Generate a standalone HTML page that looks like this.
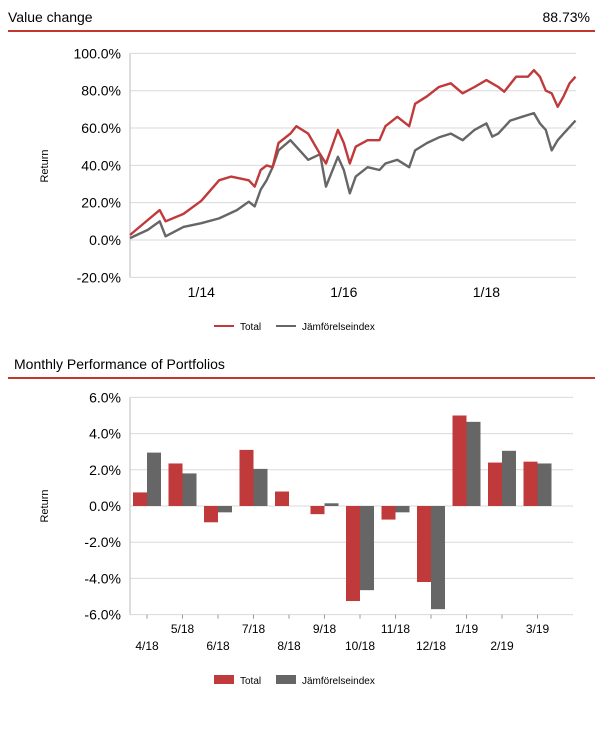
<!DOCTYPE html>
<html><head><meta charset="utf-8"><style>
body{margin:0;background:#fff;font-family:"Liberation Sans",Arial,sans-serif}
svg text{font-family:"Liberation Sans",Arial,sans-serif}
</style></head><body>
<svg id="root" width="609" height="725" xmlns="http://www.w3.org/2000/svg">
<g>
<text x="8" y="22" font-size="14" fill="#000">Value change</text>
<text x="590" y="22" font-size="14" fill="#000" text-anchor="end">88.73%</text>
<rect x="8" y="30" width="587" height="2" fill="#c0392b"/>
</g>
<g id="line"></g>
<g>
<text x="14" y="369" font-size="14" fill="#000">Monthly Performance of Portfolios</text>
<rect x="8" y="377" width="587" height="2" fill="#c0392b"/>
</g>
<g id="bar"></g>
</svg>
<script>
// ---- Line chart data ----
const lineMonths=[0,3,5,6,9,12,15,17,20,21,22,23,24,25,27,28,30,32,33,35,36,37,38,40,42,43,45,47,48,50,52,54,56,58,60,62,63,65,67,68,69,70,71,72,73,74,75];
const totalVals=[2.7,10.7,16,10,14,21,32,34,32,28.6,37.5,40,39,52,57,61,57,46,41,59,52,41,50,53.5,53.5,61,66,61,73,77,82,84,78.6,82,85.7,82,79.5,87.5,87.5,91,87.5,80,78.6,71.4,77,84,87.5];
const benchMonths=[0,3,5,6,9,12,15,18,20,21,22,23,24,25,27,28,30,32,33,35,36,37,38,40,42,43,45,47,48,50,52,54,56,58,60,61,62,64,66,68,69,70,71,72,73,75];
const benchVals=[1,5.4,10,2,7,9,11.6,16,20.5,18,27,32,39,48,53.5,50,43,46,28.6,44.6,37.5,25,34,39,37.5,41,43,39,48,52,55,57,53.5,59,62.5,55.4,57,64,66,68,62.5,59,48,53.5,57,64];
const lineYTicks=[-20,0,20,40,60,80,100];
const lineXTicks=[12,36,60];
const lineXLabels=["1/14","1/16","1/18"];
// ---- Bar chart data ----
const barCats=["4/18","5/18","6/18","7/18","8/18","9/18","10/18","11/18","12/18","1/19","2/19","3/19"];
const barTotal=[0.75,2.35,-0.9,3.1,0.8,-0.45,-5.25,-0.75,-4.2,5.0,2.4,2.45];
const barBench=[2.95,1.8,-0.35,2.05,0,0.15,-4.65,-0.35,-5.7,4.65,3.05,2.35];
const barYTicks=[-6,-4,-2,0,2,4,6];

const NS="http://www.w3.org/2000/svg";
function mk(p,t,a){const e=document.createElementNS(NS,t);for(const k in a)e.setAttribute(k,a[k]);p.appendChild(e);return e;}
const RED="#c0393b",GRAY="#666666";

// Line chart
const L=document.getElementById('line');
const lx=m=>130+m*5.94, ly=v=>240-v*1.866;
lineYTicks.forEach(v=>{
 const g=mk(L,'line',{x1:130,x2:576,y1:ly(v),y2:ly(v),stroke:'#d9d9d9','stroke-width':1});
 
 
 const t=mk(L,'text',{x:121,y:ly(v)+5,'font-size':14,'text-anchor':'end',fill:'#000'});
 t.textContent=v.toFixed(1)+'%';
 
 
});
mk(L,'line',{x1:130,x2:130,y1:ly(100),y2:ly(-20),stroke:'#bbb'});
lineXTicks.forEach((m,i)=>{
 const t=mk(L,'text',{x:lx(m),y:297,'font-size':14,'text-anchor':'middle',fill:'#000'});
 t.textContent=lineXLabels[i];
 
 
});
const ya=mk(L,'text',{transform:'translate(48,166) rotate(-90)','font-size':11,'text-anchor':'middle'});ya.textContent='Return';


function path(ms,vs,c,name){const p=mk(L,'path',{d:ms.map((m,i)=>(i?'L':'M')+lx(m).toFixed(1)+','+ly(vs[i]).toFixed(1)).join(''),fill:'none',stroke:c,'stroke-width':2.4,'stroke-linejoin':'round'});
 
 }
path(benchMonths,benchVals,GRAY,'benchmark-line');
path(lineMonths,totalVals,RED,'total-line');
function legend(P,y,bars){
 [['Total',RED,214],['Jämförelseindex',GRAY,276]].forEach(([n,c,x])=>{
  if(bars) mk(P,'rect',{x:x,y:y-5,width:20,height:9,fill:c}); else mk(P,'rect',{x:x,y:y-1,width:20,height:2,fill:c});
  const t=mk(P,'text',{x:x+26,y:y+4,'font-size':10,fill:'#000'});t.textContent=n;
  
  
 });
}
legend(L,326,false);

// Bar chart
const B=document.getElementById('bar');
const bw=35.5, bc=i=>147+i*bw, by=v=>506-v*18.1;
barYTicks.forEach(v=>{
 const g=mk(B,'line',{x1:130,x2:573,y1:by(v),y2:by(v),stroke:'#d9d9d9','stroke-width':1});
 
 
 const t=mk(B,'text',{x:121,y:by(v)+5,'font-size':14,'text-anchor':'end',fill:'#000'});
 t.textContent=v.toFixed(1)+'%';
 
 
});
mk(B,'line',{x1:130,x2:130,y1:by(6),y2:by(-6),stroke:'#bbb'});
barCats.forEach((c,i)=>{
 mk(B,'line',{x1:bc(i),x2:bc(i),y1:by(-6),y2:by(-6)+4,stroke:'#999'});
 const t=mk(B,'text',{x:bc(i),y:i%2?633:650,'font-size':12,'text-anchor':'middle',fill:'#000'});
 t.textContent=c;
 
 
 [[barTotal[i],RED,-14,'bar-total'],[barBench[i],GRAY,0,'bar-benchmark']].forEach(([v,col,o,n])=>{
  const r=mk(B,'rect',{x:bc(i)+o,y:Math.min(by(v),by(0)),width:14,height:Math.abs(by(v)-by(0)),fill:col});
  
  
 });
});
const yb=mk(B,'text',{transform:'translate(48,506) rotate(-90)','font-size':11,'text-anchor':'middle'});yb.textContent='Return';


legend(B,680,true);
</script>
</body></html>
